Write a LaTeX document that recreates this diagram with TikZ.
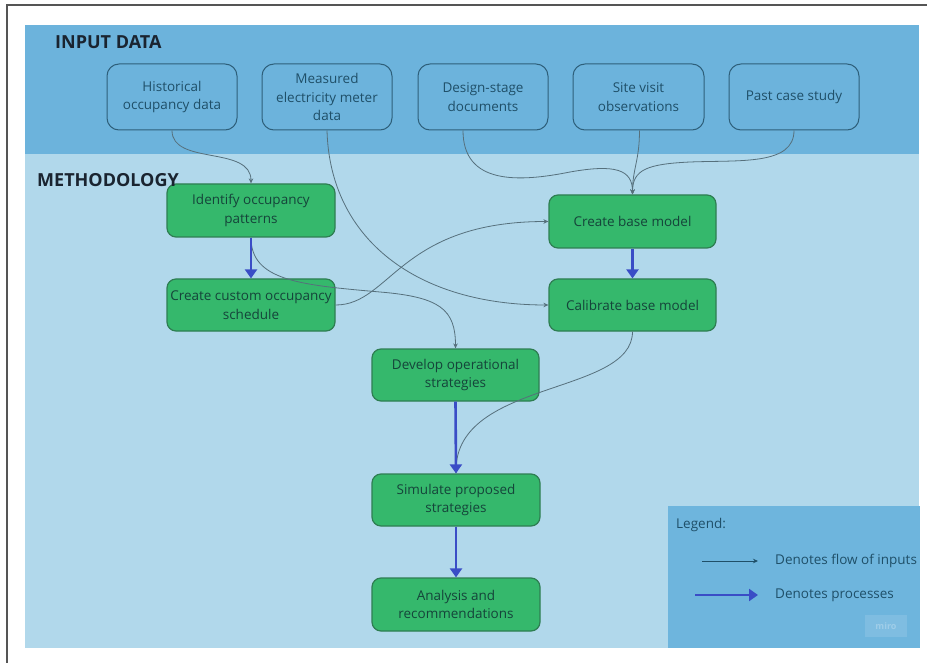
\documentclass[tikz,border=0pt]{standalone}
\usepackage{fontspec}
\setmainfont{Open Sans}
\usetikzlibrary{arrows.meta,calc}
\definecolor{bandtop}{HTML}{6CB3DC}
\definecolor{bandlow}{HTML}{B1D8EB}
\definecolor{legendbg}{HTML}{6EB5DD}
\definecolor{inborder}{HTML}{2E5F7A}
\definecolor{intext}{HTML}{1F4F68}
\definecolor{greenfill}{HTML}{35B86C}
\definecolor{greenborder}{HTML}{2E7E52}
\definecolor{greentext}{HTML}{15443A}
\definecolor{flowline}{HTML}{56707C}
\definecolor{procblue}{HTML}{3A4DC6}
\definecolor{headtext}{HTML}{1A2430}
\definecolor{framegray}{HTML}{555555}
\tikzset{
  inbox/.style={draw=inborder, line width=1pt, rounded corners=12pt, fill=bandtop,
    minimum width=130pt, minimum height=66pt, inner sep=0pt, align=center,
    text=intext, font=\fontsize{13.5}{18.5}\selectfont},
  gbox/.style={draw=greenborder, line width=1.2pt, rounded corners=9pt, fill=greenfill,
    minimum width=168pt, minimum height=53pt, inner sep=0pt, align=center,
    text=greentext, font=\fontsize{13.5}{18.5}\selectfont},
  heading/.style={anchor=west, inner sep=0pt, text=headtext, font=\fontsize{18}{20}\selectfont\bfseries},
  flow/.style={draw=flowline, line width=0.8pt, -{Stealth[length=5pt,width=4.5pt]}},
  proc/.style={draw=procblue, line width=2.6pt, -{Triangle[length=9pt,width=12pt]}},
  legtext/.style={anchor=west, inner sep=0pt, text=intext, font=\fontsize{13.5}{16}\selectfont}
}
\begin{document}
\begin{tikzpicture}[x=1pt,y=-1pt]
\useasboundingbox (0,0) rectangle (927,663);
% frame
\draw[framegray, line width=1.5pt] (7,663) -- (7,5) -- (927,5);
% bands
\fill[bandlow] (25,154) rectangle (919,648);
\fill[bandtop] (25,25) rectangle (919,154);
\fill[legendbg] (668,506) rectangle (920,648);
% input boxes
\node[inbox] (hist) at (172,97) {Historical\\occupancy data};
\node[inbox] (meas) at (327,97) {Measured\\electricity meter\\data};
\node[inbox] (design) at (483,97) {Design-stage\\documents};
\node[inbox, minimum width=131pt] (site) at (638.5,97) {Site visit\\observations};
\node[inbox] (past) at (794,97) {Past case study};
% green boxes
\node[gbox] (ident) at (251,210.5) {Identify occupancy\\patterns};
\node[gbox, minimum height=52pt] (custom) at (251,305) {Create custom occupancy\\schedule};
\node[gbox, minimum width=167pt, minimum height=52pt] (develop) at (455.5,375) {Develop operational\\strategies};
\node[gbox, minimum width=167pt] (cbase) at (632.5,221.5) {Create base model};
\node[gbox, minimum width=167pt, minimum height=52pt] (calib) at (632.5,305) {Calibrate base model};
\node[gbox, minimum height=52pt] (sim) at (456,500) {Simulate proposed\\strategies};
\node[gbox] (anal) at (456,604.5) {Analysis and\\recommendations};
% headings
\node[heading] (hin) at (55,42) {INPUT DATA};
\node[heading] (hmeth) at (37,180) {METHODOLOGY};
% flow of inputs
\draw[flow] (hist.south) .. controls ($(hist.south)+(0,35)$) and ($(ident.north)+(0,-38)$) .. (ident.north);
\draw[flow] (meas.south) .. controls ($(meas.south)+(3,110)$) and ($(calib.west)+(-130,0)$) .. (calib.west);
\coordinate (dstart) at ($(design.south)+(-20,0)$);
\draw[flow] (dstart) .. controls ($(dstart)+(0,55)$) and (520,182) .. (570,172)
  .. controls (615,164) and ($(cbase.north)+(0,-25)$) .. (cbase.north);
\coordinate (sstart) at ($(site.south)+(1,0)$);
\draw[flow] (sstart) .. controls ($(sstart)+(0,30)$) and ($(cbase.north)+(0,-25)$) .. (cbase.north);
\draw[flow] (past.south) .. controls ($(past.south)+(0,35)$) and (740,160) .. (690,162)
  .. controls (648,164) and ($(cbase.north)+(0,-25)$) .. (cbase.north);
\draw[flow] (custom.east) .. controls ($(custom.east)+(55,0)$) and ($(cbase.west)+(-149,0)$) .. (cbase.west);
\draw[flow] (ident.south) .. controls ($(ident.south)+(0,43)$) and (300,285) .. (380,292)
  .. controls (440,297) and ($(develop.north)+(0,-39)$) .. (develop.north);
\draw[flow] (calib.south) .. controls ($(calib.south)+(0,64)$) and ($(sim.north)+(0,-94)$) .. (sim.north);
% processes
\draw[proc] (ident.south) -- (custom.north);
\draw[proc] (cbase.south) -- (calib.north);
\draw[proc] (develop.south) -- (sim.north);
\draw[proc] (sim.south) -- (anal.north);
% legend
\node[legtext] (legt) at (676,525) {Legend:};
\coordinate (l1a) at (702,561);
\coordinate (l1b) at (758,561);
\coordinate (l2a) at (695,595);
\coordinate (l2b) at (758,595);
\draw[flow, draw=intext] (l1a) -- (l1b);
\draw[proc] (l2a) -- (l2b);
\node[legtext] (leg1) at (775,561) {Denotes flow of inputs};
\node[legtext] (leg2) at (775,595) {Denotes processes};
\node[fill=white, fill opacity=0.12, text opacity=0.25, text=white, minimum width=42pt, minimum height=22pt, inner sep=0pt, font=\fontsize{9}{10}\selectfont\bfseries] (miro) at (886,626) {miro};
\end{tikzpicture}
\end{document}
